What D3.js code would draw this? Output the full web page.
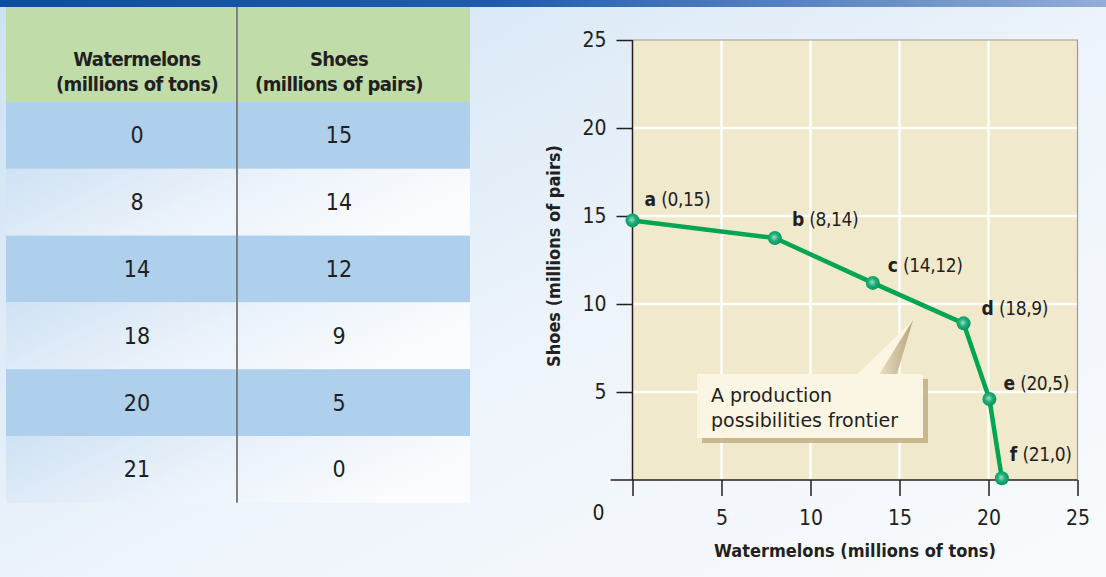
<!DOCTYPE html>
<html>
<head>
<meta charset="utf-8">
<script src="https://cdn.jsdelivr.net/npm/d3@7"></script>
<style>
  body { margin: 0; background: #fff; }
  svg text { font-family: "Liberation Sans Narrow", "DejaVu Sans Condensed", "Arial Narrow", sans-serif; fill: #231f20; }
</style>
</head>
<body>
<svg id="chart" width="1106" height="577"></svg>
<script>
// table data
const watermelons = [0, 8, 14, 18, 20, 21];
const shoes = [15, 14, 12, 9, 5, 0];
const pointNames = ["a", "b", "c", "d", "e", "f"];
// frontier as drawn in the picture (slightly off the table values)
const plotX = [0, 8.0, 13.5, 18.6, 20.05, 20.75];
const plotY = [14.75, 13.75, 11.2, 8.9, 4.6, 0.1];
const xTicks = [0, 5, 10, 15, 20, 25];
const yTicks = [5, 10, 15, 20, 25];

const svg = d3.select("#chart");
const W = 1106, H = 577;
const defs = svg.append("defs");

const bg = defs.append("linearGradient").attr("id", "bg")
  .attr("x1", "0").attr("y1", "0").attr("x2", "1").attr("y2", "1");
bg.append("stop").attr("offset", "0").attr("stop-color", "#cde2f4");
bg.append("stop").attr("offset", "0.55").attr("stop-color", "#eef4fb");
bg.append("stop").attr("offset", "1").attr("stop-color", "#f9fbfd");

const topBar = defs.append("linearGradient").attr("id", "topbar");
topBar.append("stop").attr("offset", "0").attr("stop-color", "#0b4ea2");
topBar.append("stop").attr("offset", "0.45").attr("stop-color", "#1f5cac");
topBar.append("stop").attr("offset", "1").attr("stop-color", "#93acd8");

const lightRow = defs.append("linearGradient").attr("id", "lightrow")
  .attr("x1", "0").attr("y1", "0").attr("x2", "1").attr("y2", "0.3");
lightRow.append("stop").attr("offset", "0").attr("stop-color", "#cfe2f4");
lightRow.append("stop").attr("offset", "0.5").attr("stop-color", "#e9f1fa");
lightRow.append("stop").attr("offset", "1").attr("stop-color", "#fafcfe");

const dot = defs.append("radialGradient").attr("id", "dot")
  .attr("cx", "0.45").attr("cy", "0.45").attr("r", "0.6");
dot.append("stop").attr("offset", "0").attr("stop-color", "#9fe0c4");
dot.append("stop").attr("offset", "0.45").attr("stop-color", "#1fae7a");
dot.append("stop").attr("offset", "1").attr("stop-color", "#00915a");

const shade = defs.append("linearGradient").attr("id", "shade")
  .attr("x1", "0").attr("y1", "0").attr("x2", "1").attr("y2", "0");
shade.append("stop").attr("offset", "0").attr("stop-color", "#efe6cc");
shade.append("stop").attr("offset", "1").attr("stop-color", "#b9a47e");

svg.append("rect").attr("width", W).attr("height", H).attr("fill", "url(#bg)");
svg.append("rect").attr("width", W).attr("height", 7).attr("fill", "url(#topbar)");

// ---------- table ----------
const table = { left: 6, right: 470, mid: 237, top: 7, headBottom: 102, rowH: 66.8 };
const rowScale = d3.scaleBand()
  .domain(d3.range(watermelons.length))
  .range([table.headBottom, table.headBottom + table.rowH * watermelons.length]);

const tg = svg.append("g");
tg.append("rect")
  .attr("x", table.left).attr("y", table.top)
  .attr("width", table.right - table.left).attr("height", table.headBottom - table.top)
  .attr("fill", "#c0dda9");

tg.selectAll(".row")
  .data(watermelons)
  .join("rect")
  .attr("class", "row")
  .attr("x", table.left)
  .attr("y", (d, i) => rowScale(i))
  .attr("width", table.right - table.left)
  .attr("height", rowScale.bandwidth())
  .attr("fill", (d, i) => (i % 2 === 0 ? "#aed0ec" : "url(#lightrow)"));

const col1 = 137;
const col2 = 339;

[["Watermelons", "(millions of tons)", col1], ["Shoes", "(millions of pairs)", col2]]
  .forEach(([l1, l2, cx]) => {
    const t = tg.append("text")
      .attr("x", cx).attr("text-anchor", "middle")
      .style("font-size", "20px").style("font-weight", "bold")
      .style("letter-spacing", "-0.6px");
    t.append("tspan").attr("x", cx).attr("y", 66).text(l1);
    t.append("tspan").attr("x", cx).attr("y", 91).text(l2);
  });

tg.selectAll(".c1")
  .data(watermelons)
  .join("text")
  .attr("class", "c1")
  .attr("x", col1)
  .attr("y", (d, i) => rowScale(i) + rowScale.bandwidth() / 2 + 8)
  .attr("text-anchor", "middle")
  .style("font-size", "23px")
  .text((d) => d);

tg.selectAll(".c2")
  .data(shoes)
  .join("text")
  .attr("class", "c2")
  .attr("x", col2)
  .attr("y", (d, i) => rowScale(i) + rowScale.bandwidth() / 2 + 8)
  .attr("text-anchor", "middle")
  .style("font-size", "23px")
  .text((d) => d);

tg.append("line")
  .attr("x1", table.mid).attr("x2", table.mid)
  .attr("y1", table.top).attr("y2", rowScale.range()[1])
  .attr("stroke", "#808080").attr("stroke-width", 2);

// ---------- graph ----------
const x = d3.scaleLinear().domain([0, 25]).range([632.5, 1077.5]);
const y = d3.scaleLinear().domain([0, 25]).range([480, 40]);

const g = svg.append("g");
g.append("rect")
  .attr("x", x(0)).attr("y", y(25))
  .attr("width", x(25) - x(0)).attr("height", y(0) - y(25))
  .attr("fill", "#f1e9cb");

g.selectAll(".vgrid")
  .data(xTicks.slice(1, -1))
  .join("line")
  .attr("class", "vgrid")
  .attr("x1", (d) => x(d)).attr("x2", (d) => x(d))
  .attr("y1", y(25)).attr("y2", y(0))
  .attr("stroke", "#fff").attr("stroke-width", 2.5);

g.selectAll(".hgrid")
  .data(yTicks.slice(0, -1))
  .join("line")
  .attr("class", "hgrid")
  .attr("x1", x(0)).attr("x2", x(25))
  .attr("y1", (d) => y(d)).attr("y2", (d) => y(d))
  .attr("stroke", "#fff").attr("stroke-width", 2.5);

// top/right frame
g.append("path")
  .attr("d", `M${x(0)},${y(25)}H${x(25)}V${y(0)}`)
  .attr("fill", "none").attr("stroke", "#9a9a9a").attr("stroke-width", 1.2);

// y axis
const yAxis = d3.axisLeft(y).tickValues(yTicks).tickSize(16).tickPadding(10);
const yAxisG = g.append("g").attr("transform", `translate(${x(0)},0)`).call(yAxis);
yAxisG.select(".domain").attr("stroke", "#231f20").attr("stroke-width", 1.5)
  .attr("d", `M0,${y(25)}V${y(0)}`);
yAxisG.selectAll(".tick line").attr("stroke", "#231f20").attr("stroke-width", 1.5);
yAxisG.selectAll(".tick text").style("font-size", "21px").attr("fill", "#231f20")
  .attr("font-family", null);

// x axis
const xAxis = d3.axisBottom(x).tickValues(xTicks).tickSize(16).tickPadding(14)
  .tickFormat((d) => (d === 0 ? "" : d));
const xAxisG = g.append("g").attr("transform", `translate(0,${y(0)})`).call(xAxis);
xAxisG.select(".domain").attr("stroke", "#231f20").attr("stroke-width", 1.5)
  .attr("d", `M${x(0) - 22},0H${x(25)}`);
xAxisG.selectAll(".tick line").attr("stroke", "#231f20").attr("stroke-width", 1.5);
xAxisG.selectAll(".tick text").style("font-size", "21px").attr("fill", "#231f20")
  .attr("font-family", null);
g.append("text")
  .attr("x", x(0) - 34).attr("y", y(0) + 40)
  .attr("text-anchor", "middle").style("font-size", "21px").text("0");

// axis titles
g.append("text")
  .attr("x", 855).attr("y", 557)
  .attr("text-anchor", "middle")
  .style("font-size", "18px").style("font-weight", "bold")
  .text("Watermelons (millions of tons)");
g.append("text")
  .attr("transform", "translate(560,256) rotate(-90)")
  .attr("text-anchor", "middle")
  .style("font-size", "18px").style("font-weight", "bold")
  .text("Shoes (millions of pairs)");

// callout
const box = { x: 697, y: 374, w: 226, h: 64 };
const tipX = 913, tipY = 320;
const cg = g.append("g");
cg.append("path")
  .attr("d", `M${box.x + 178},${box.y} L${tipX},${tipY} L${box.x + 200},${box.y} Z`)
  .attr("fill", "url(#shade)");
cg.append("rect")
  .attr("x", box.x + 5).attr("y", box.y + 5).attr("width", box.w).attr("height", box.h)
  .attr("fill", "#c2ae86").attr("opacity", 0.85);
cg.append("rect")
  .attr("x", box.x).attr("y", box.y).attr("width", box.w).attr("height", box.h)
  .attr("fill", "#faf6e3");
cg.append("path")
  .attr("d", `M${box.x + 160},${box.y + 0.5} L${tipX},${tipY} L${box.x + 182},${box.y + 0.5} Z`)
  .attr("fill", "#faf6e3");
const ct = cg.append("text").style("font-size", "19px")
  .style("font-family", "'DejaVu Sans', sans-serif").attr("fill", "#333");
ct.append("tspan").attr("x", box.x + 14).attr("y", box.y + 28).text("A production");
ct.append("tspan").attr("x", box.x + 14).attr("y", box.y + 53).text("possibilities frontier");

// frontier
const pts = plotX.map((v, i) => ({ x: v, y: plotY[i], name: pointNames[i],
  label: `(${watermelons[i]},${shoes[i]})` }));
const line = d3.line().x((d) => x(d.x)).y((d) => y(d.y));
g.append("path").datum(pts)
  .attr("d", line)
  .attr("fill", "none").attr("stroke", "#00a651").attr("stroke-width", 4.5)
  .attr("stroke-linejoin", "round");

g.selectAll(".pt")
  .data(pts)
  .join("circle")
  .attr("class", "pt")
  .attr("cx", (d) => x(d.x)).attr("cy", (d) => y(d.y))
  .attr("r", 7)
  .attr("fill", "url(#dot)");

const labelOffsets = [[12, -14], [17, -12], [15, -11], [18, -8], [14, -9], [8, -17]];
const lab = g.selectAll(".plab")
  .data(pts)
  .join("text")
  .attr("class", "plab")
  .attr("x", (d, i) => x(d.x) + labelOffsets[i][0])
  .attr("y", (d, i) => y(d.y) + labelOffsets[i][1])
  .style("font-size", "19px")
  .style("letter-spacing", "-0.4px");
lab.append("tspan").style("font-weight", "bold").text((d) => d.name + " ");
lab.append("tspan").text((d) => d.label);
</script>
</body>
</html>
